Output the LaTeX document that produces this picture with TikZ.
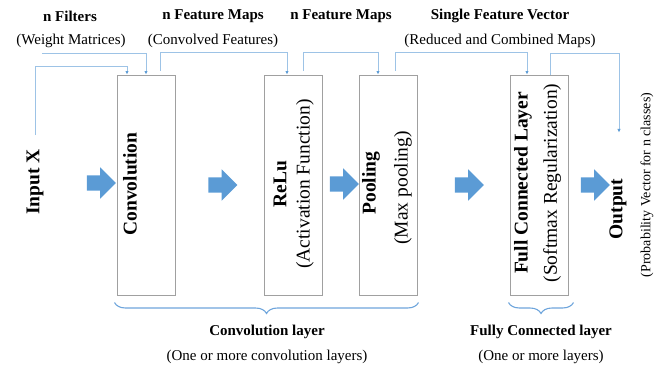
\documentclass[tikz,border=0pt]{standalone}
\usepackage{fontspec}
\setmainfont{Liberation Serif}
\usetikzlibrary{shapes.arrows,decorations.pathreplacing,arrows.meta}

\definecolor{linkblue}{RGB}{157,195,230}
\definecolor{tipblue}{RGB}{91,155,213}
\definecolor{arrowblue}{RGB}{91,155,213}
\definecolor{braceblue}{RGB}{110,165,220}
\definecolor{boxgray}{RGB}{160,160,160}

\begin{document}
\begin{tikzpicture}[x=1pt,y=1pt]
        \tikzstyle{every node}+=[inner sep=0pt]
        \tikzstyle{box}=[draw=boxgray,line width=1pt,minimum width=58pt,minimum height=220pt]
        \tikzstyle{bigarrow}=[single arrow,fill=arrowblue,inner ysep=7.5pt,minimum width=31pt,minimum height=29pt,single arrow head extend=8pt]
        \tikzstyle{link}=[linkblue,line width=0.8pt,-{Latex[length=3.5pt,width=3.5pt,color=tipblue]}]
        \tikzstyle{layerbrace}=[braceblue,line width=1.1pt,decorate,decoration={brace,mirror,amplitude=11pt}]
        \tikzstyle{head}=[font=\fontsize{15}{18}\selectfont\bfseries]
        \tikzstyle{sub}=[font=\fontsize{15}{18}\selectfont]
        \tikzstyle{vhead}=[rotate=90,font=\fontsize{19.5}{23}\selectfont\bfseries]
        \tikzstyle{vsub}=[rotate=90,font=\fontsize{19.5}{23}\selectfont]
        \tikzstyle{psub}=[rotate=90,font=\fontsize{14}{17}\selectfont]
        \useasboundingbox (0,0) rectangle (666,-370);
        % top labels
        \node[head] (filt) at (70,-16) {n Filters};
        \node[sub] (wm) at (71,-41) {(Weight Matrices)};
        \node[head] (fm1) at (213,-16) {n Feature Maps};
        \node[sub] (cf) at (213,-41) {(Convolved Features)};
        \node[head] (fm2) at (341,-16) {n Feature Maps};
        \node[head] (sfv) at (500,-16) {Single Feature Vector};
        \node[sub] (rcm) at (500,-41) {(Reduced and Combined Maps)};
        % layer boxes
        \node[box] (conv) at (146,-185) {};
        \node[box] (relu) at (293,-185) {};
        \node[box] (pool) at (388,-185) {};
        \node[box] (fc) at (539,-185) {};
        \node[vhead] (inx) at (35,-182) {Input X};
        \node[vhead] (convt) at (130,-184) {Convolution};
        \node[vhead] (relut) at (280,-184) {ReLu};
        \node[vsub] (act) at (305,-184) {(Activation Function)};
        \node[vhead] (poolt) at (371,-183) {Pooling};
        \node[vsub] (maxp) at (403,-188) {(Max pooling)};
        \node[vhead] (fct) at (523,-183) {Full Connected Layer};
        \node[vsub] (soft) at (552,-183) {(Softmax Regularization)};
        \node[vhead] (outt) at (618,-209) {Output};
        \node[psub] (prob) at (647,-185) {(Probability Vector for n classes)};
        % block arrows
        \node[bigarrow] (ar1) at (97.5,-183) {};
        \node[bigarrow] (ar2) at (219,-185) {};
        \node[bigarrow] (ar3) at (340.5,-184) {};
        \node[bigarrow] (ar4) at (465.5,-185) {};
        \node[bigarrow] (ar5) at (591.5,-185) {};
        % thin connectors
        \coordinate (wmend) at (42,-53);
        \draw[link] (wmend) -| (conv.north);
        \draw[link] ([yshift=14pt]inx.east) |- ([xshift=-19pt,yshift=8pt]conv.north) -- ([xshift=-19pt]conv.north);
        \draw[link] ([xshift=14pt,yshift=4pt]conv.north) |- ([xshift=-6pt,yshift=22pt]relu.north) -- ([xshift=-6pt]relu.north);
        \draw[link] ([xshift=10pt,yshift=4pt]relu.north) |- ([xshift=-10pt,yshift=22pt]pool.north) -- ([xshift=-10pt]pool.north);
        \draw[link] ([xshift=7pt,yshift=4pt]pool.north) |- ([xshift=-12pt,yshift=22pt]fc.north) -- ([xshift=-12pt]fc.north);
        \draw[link] ([xshift=11pt]fc.north) |- ([xshift=1pt,yshift=125pt]outt.east) -- ([xshift=1pt,yshift=46pt]outt.east);
        % braces and layer captions
        \draw[layerbrace] ([xshift=-2pt,yshift=-7pt]conv.south west) -- ([xshift=1pt,yshift=-7pt]pool.south east);
        \draw[layerbrace] ([xshift=-1pt,yshift=-7pt]fc.south west) -- ([xshift=5pt,yshift=-7pt]fc.south east);
        \node[head] (cl) at (267,-332) {Convolution layer};
        \node[sub] (clsub) at (267,-357) {(One or more convolution layers)};
        \node[head] (fcl) at (541,-332) {Fully Connected layer};
        \node[sub] (fclsub) at (541,-357) {(One or more layers)};
\end{tikzpicture}
\end{document}
